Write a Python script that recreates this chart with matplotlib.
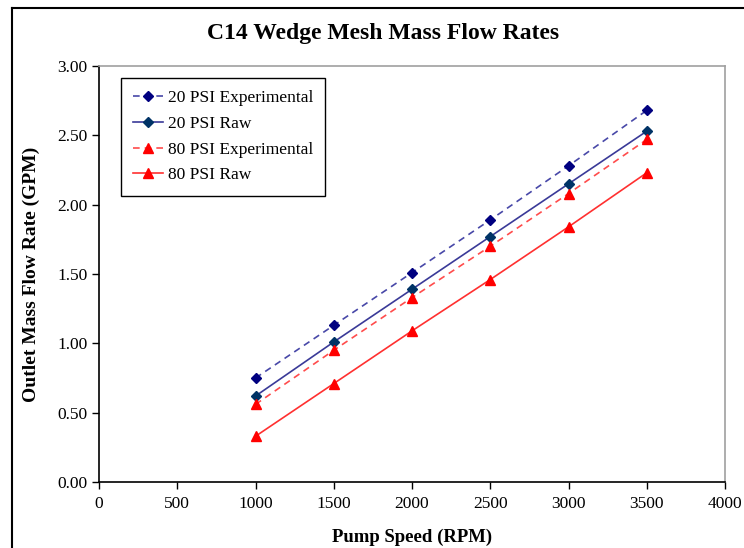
import matplotlib
matplotlib.use("Agg")
from matplotlib import pyplot as plt
from matplotlib.lines import Line2D

plt.rcParams['font.family'] = ['Liberation Serif', 'DejaVu Serif']

rpm = [1000, 1500, 2000, 2500, 3000, 3500]
psi20_exp = [0.75, 1.13, 1.51, 1.89, 2.28, 2.68]
psi20_raw = [0.62, 1.01, 1.39, 1.77, 2.15, 2.53]
psi80_exp = [0.56, 0.95, 1.33, 1.70, 2.08, 2.47]
psi80_raw = [0.33, 0.71, 1.09, 1.46, 1.84, 2.23]

fig = plt.figure(figsize=(7.44, 5.48), dpi=100)
ax = fig.add_axes([0.1331, 0.1204, 0.8414, 0.7592])

ax.plot(rpm, psi20_exp, '--', color='#4848a8', lw=1.2, dashes=(4, 3),
        marker='D', ms=5.5, mfc='#000080', mec='#000080', label='20 PSI Experimental')
ax.plot(rpm, psi20_raw, '-', color='#3a3a98', lw=1.2,
        marker='D', ms=5.5, mfc='#003366', mec='#003366', label='20 PSI Raw')
ax.plot(rpm, psi80_exp, '--', color='#ff4c4c', lw=1.2, dashes=(4, 3),
        marker='^', ms=6.5, mfc='#ff0000', mec='#ff0000', label='80 PSI Experimental')
ax.plot(rpm, psi80_raw, '-', color='#ff3030', lw=1.2,
        marker='^', ms=6.5, mfc='#ff0000', mec='#ff0000', label='80 PSI Raw')

ax.set_xlim(0, 4000)
ax.set_ylim(0, 3.0)
ax.set_xticks(range(0, 4001, 500))
ax.set_yticks([i * 0.5 for i in range(7)])
ax.set_yticklabels(['%.2f' % (i * 0.5) for i in range(7)])
ax.tick_params(direction='out', length=5, width=1, labelsize=12.5, color='black')
ax.tick_params(axis='x', pad=5)

for s in ['left', 'bottom']:
    ax.spines[s].set_color('black')
    ax.spines[s].set_linewidth(1.2)
for s in ['top', 'right']:
    ax.spines[s].set_color('#a0a0a0')
    ax.spines[s].set_linewidth(1.2)

ax.set_xlabel('Pump Speed (RPM)', fontsize=13.5, fontweight='bold', labelpad=12)
ax.set_ylabel('Outlet Mass Flow Rate (GPM)', fontsize=14, fontweight='bold', labelpad=12)

fig.text(383 / 744, 1 - 33 / 548, 'C14 Wedge Mesh Mass Flow Rates', fontsize=17,
         fontweight='bold', ha='center', va='center')

leg = ax.legend(loc='upper left', bbox_to_anchor=(0.0351, 0.971), borderaxespad=0,
                fontsize=12.5, fancybox=False, framealpha=1, edgecolor='black',
                handlelength=1.7, borderpad=0.7, labelspacing=0.55, handletextpad=0.3)
leg.get_frame().set_linewidth(1.0)

# outer frame around the whole chart
fig.add_artist(Line2D([12 / 744, 12 / 744], [0, 1 - 8 / 548], transform=fig.transFigure,
                      color='black', lw=1.5))
fig.add_artist(Line2D([12 / 744, 1], [1 - 8 / 548, 1 - 8 / 548], transform=fig.transFigure,
                      color='black', lw=1.5))

fig.savefig('out.png', dpi=100)
